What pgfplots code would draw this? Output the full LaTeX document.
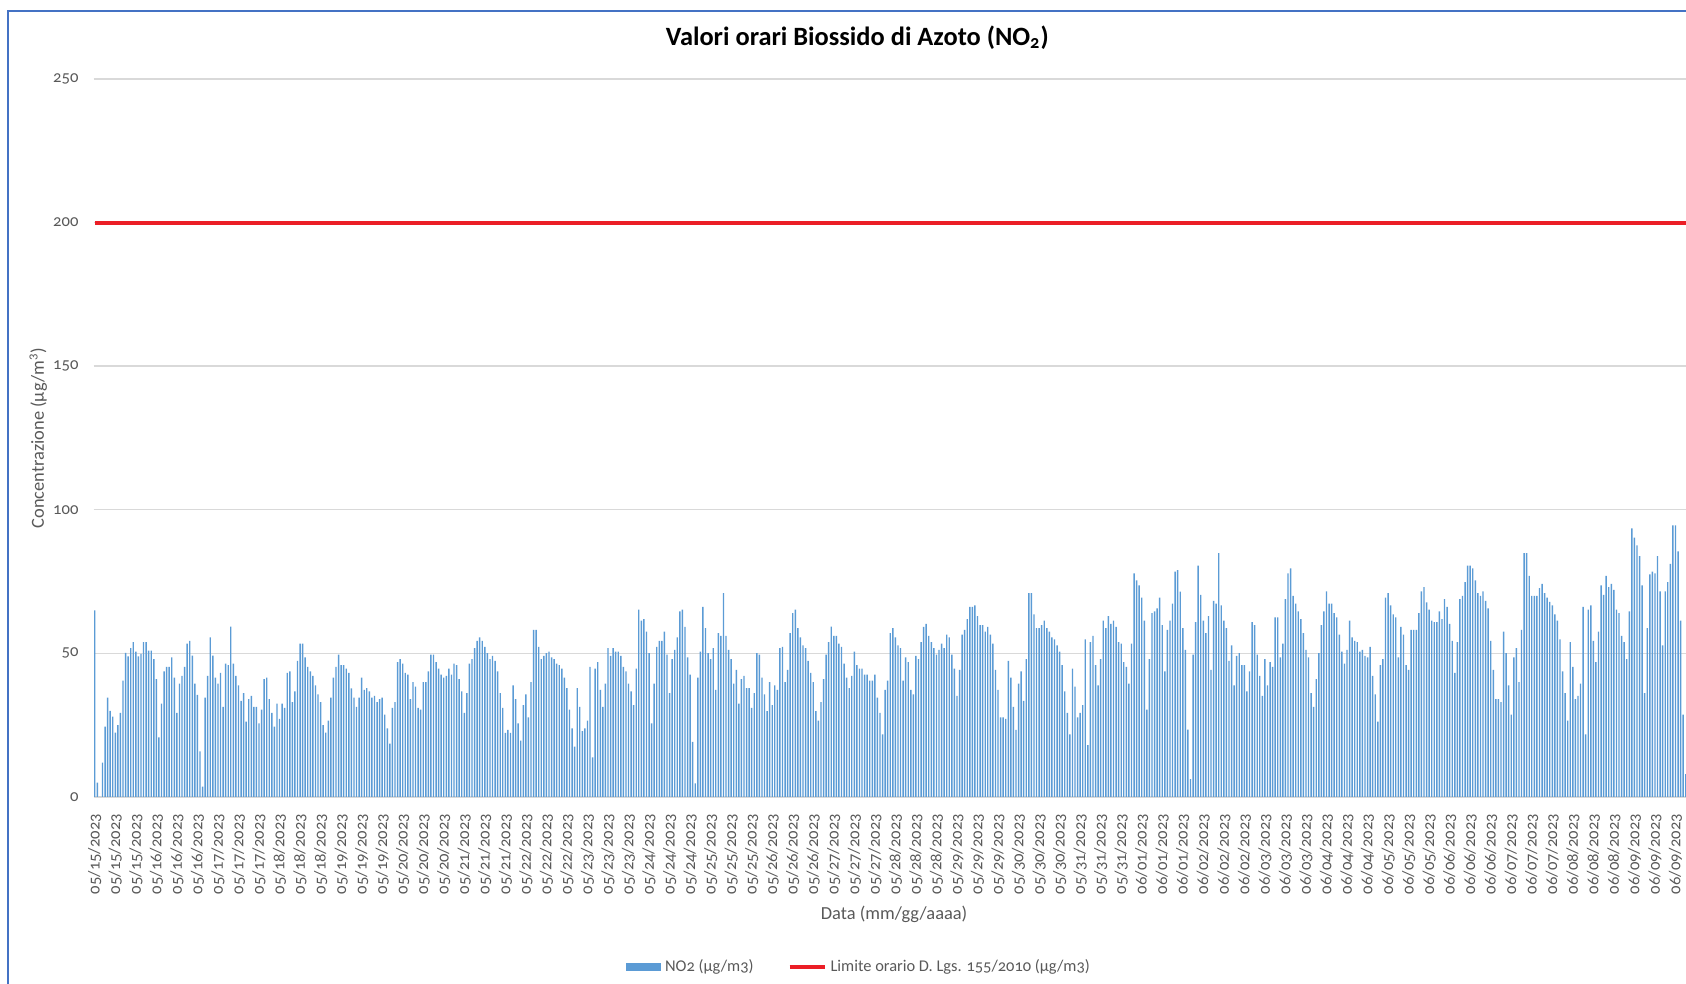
\documentclass[border=0pt]{standalone}
\usepackage{fontspec}
\setmainfont{Carlito}[Numbers=OldStyle]
\usepackage{pgfplots}
\usepackage{pgfplotstable}
\pgfplotsset{compat=1.18}
\definecolor{barblue}{RGB}{91,155,213}
\definecolor{limred}{RGB}{235,30,38}
\definecolor{gridgray}{RGB}{217,217,217}
\definecolor{tickgray}{RGB}{89,89,89}
\definecolor{frameblue}{RGB}{68,114,196}

\pgfplotstableread[row sep=\\]{
v\\
65\\5\\0\\12\\24.5\\34.6\\30\\28\\22.4\\25\\29.3\\40.5\\50.2\\49\\51.8\\53.9\\50.6\\49\\49.8\\53.9\\53.9\\51\\51\\48\\
41\\20.8\\32.5\\43.7\\45.3\\45.3\\48.6\\41.6\\29.3\\39.5\\42.2\\45.3\\53.4\\54.4\\49.2\\39.5\\35.6\\15.9\\3.6\\34.6\\42.2\\55.6\\49.2\\41.6\\
39.5\\43.2\\31.4\\46.4\\45.9\\59.3\\46.4\\42.2\\38.9\\33.5\\36.2\\26.2\\34.1\\35.2\\31.4\\31.4\\25.6\\30.4\\41\\41.6\\34.1\\29.3\\24.5\\32.5\\
27.2\\32.5\\31\\43.2\\43.7\\33\\36.8\\47.4\\53.4\\53.4\\48.6\\45.3\\43.7\\42.2\\38.9\\35.7\\33\\25\\22.4\\26.6\\34.6\\41.6\\45.3\\49.6\\
45.9\\45.9\\44.7\\43.2\\37.8\\
34.6\\31.4\\34.6\\41.6\\37.3\\37.9\\36.8\\34.6\\35.2\\33\\34.1\\34.6\\28.7\\23.9\\18.6\\31\\33\\47\\48\\46.4\\43.2\\42.6\\34.1\\40\\
38.4\\31\\30.4\\40\\40\\43.7\\49.6\\49.6\\47\\44.7\\42.6\\41.6\\42.2\\44.7\\42.6\\46.4\\45.9\\41\\36.8\\29.3\\36.2\\46.4\\48\\51.8\\
54.4\\55.6\\54.4\\52.3\\50.1\\48\\49.1\\47.4\\43.7\\36.2\\31\\22.3\\23.4\\22.3\\38.9\\34.1\\25.6\\19.6\\32\\35.7\\27.7\\40\\58.2\\58.2\\
52.3\\48\\49.1\\50.1\\50.6\\48.6\\48\\46.4\\45.9\\44.7\\41.6\\37.9\\30.4\\23.9\\17.5\\37.9\\31.4\\22.9\\23.9\\26.6\\45.3\\13.8\\44.7\\47\\
37.3\\31.4\\39.5\\51.8\\49.1\\51.8\\50.6\\
50.6\\49.1\\45.3\\43.7\\39.5\\36.8\\32\\44.7\\65.2\\61.4\\61.9\\57.6\\50.1\\25.6\\39.5\\52.3\\54.4\\54.4\\57.6\\49.6\\36.2\\48\\51.2\\55.6\\
64.6\\65.2\\59.2\\48.6\\42.6\\19.2\\4.7\\41.6\\50.6\\66.2\\58.8\\50.1\\48\\51.8\\37.3\\57.1\\56.1\\71\\56.1\\51.2\\48\\39.5\\44.3\\32.5\\
41\\42.2\\37.9\\37.9\\31\\36.2\\50.1\\49.6\\41.6\\35.7\\29.9\\40\\32\\38.9\\37.3\\51.8\\52.3\\40\\44.3\\57.1\\64\\65.2\\58.8\\55.6\\
52.8\\51.8\\47.4\\43.2\\40\\29.9\\26.6\\33\\41\\49.6\\53.9\\59.3\\56.1\\56.1\\53.4\\52.3\\46.4\\41.6\\37.9\\42.2\\50.6\\45.9\\44.7\\44.7\\
42.6\\42.6\\40.5\\40.5\\42.6\\34.6\\29.3\\21.8\\
37.3\\40.5\\57.1\\58.8\\55.6\\52.8\\51.8\\40.5\\48.6\\47\\37.3\\35.7\\49.1\\48\\53.9\\59.2\\60.3\\56.1\\53.9\\51.8\\49.6\\51.2\\53.4\\51.8\\
56.5\\55.6\\49.6\\44.7\\35.2\\44.3\\56.5\\58.2\\61.9\\66.2\\66.2\\66.7\\63\\59.8\\59.8\\57.6\\59.2\\56.5\\53.4\\44.3\\37.3\\27.7\\27.7\\27.2\\
47.4\\41.6\\31.4\\23.4\\39.5\\43.7\\33.5\\48\\71\\71\\63.6\\58.8\\58.8\\59.8\\61.4\\58.8\\57.6\\55.6\\54.9\\52.8\\50.6\\45.9\\36.8\\29.3\\
21.8\\44.7\\38.4\\27.7\\29.3\\32\\54.9\\18.1\\53.9\\56.1\\45.9\\38.9\\48\\61.4\\58.8\\63\\60.3\\61.4\\59.2\\53.9\\53.4\\47\\45.3\\39.5\\
53.4\\77.9\\75.4\\73.7\\69.4\\61.4\\30.4\\48\\
64\\64.6\\65.7\\69.4\\59.8\\43.7\\58.2\\61.4\\67.3\\78.5\\79\\71.5\\58.8\\51.2\\23.5\\6.2\\49.6\\60.9\\80.6\\70.4\\61.4\\57.1\\63\\44.3\\
68.3\\67.3\\84.9\\66.7\\61.4\\58.8\\47.4\\52.8\\38.9\\49.1\\50.1\\45.9\\45.9\\36.8\\43.7\\60.9\\59.8\\49.6\\42.2\\35.2\\48\\38.9\\47\\45.3\\
62.5\\62.5\\48.6\\53.4\\68.9\\77.9\\79.6\\70\\67.3\\64.6\\61.9\\57.1\\51.2\\48.6\\36.2\\31.4\\41\\50.1\\59.8\\64.6\\71.6\\67.3\\67.3\\64\\
62.5\\56.5\\50.6\\46.4\\51.2\\61.4\\55.6\\54.4\\53.9\\50.6\\51.2\\49.1\\48.6\\52.3\\42.2\\35.7\\26.2\\45.9\\48\\69.4\\71\\66.7\\63.6\\62.5\\
48.6\\59.2\\56.5\\45.9\\44.3\\58.2\\58.2\\58.2\\
64\\71.6\\73.1\\67.8\\65.2\\61.4\\60.9\\60.9\\64.6\\61.9\\68.9\\66.2\\60.3\\54.4\\43.2\\53.9\\68.9\\70\\74.8\\80.6\\80.6\\79.6\\75.4\\71\\
70\\71.6\\68.3\\65.7\\54.4\\44.3\\34.1\\34.1\\33\\57.6\\50.1\\38.9\\28.7\\48.6\\51.8\\40\\58.2\\84.9\\84.9\\77\\70\\70\\70\\72.7\\
74.2\\71\\69.4\\67.9\\66.7\\63.6\\61.4\\54.9\\43.7\\36.2\\26.6\\53.9\\45.3\\34.1\\35.2\\39.5\\66.2\\21.8\\65.2\\66.7\\54.4\\47\\57.6\\73.7\\
70.4\\77\\73.1\\74.2\\72.1\\65.2\\64\\56.1\\53.9\\48\\64.6\\93.5\\90.3\\87.6\\83.9\\73.7\\36.2\\58.8\\77.5\\78.5\\77.9\\83.9\\71.6\\52.8\\
71.6\\74.8\\81.2\\94.6\\94.6\\85.5\\61.4\\28.7\\8\\22\\38\\47\\
}\nodata

\pgfplotstableread[row sep=\\]{
x y\\
0 200\\
623 200\\
}\limitdata

\begin{document}
\begin{tikzpicture}
\begin{axis}[
  scale only axis,
  width=800.6pt, height=359pt,
  at={(46.75pt,93.5pt)}, anchor=south west,
  xmin=-0.5, xmax=623.5, ymin=0, ymax=250,
  ytick={0,50,...,250},
  xtick={0,8,...,616},
  xticklabels={
05/15/2023,05/15/2023,05/15/2023,05/16/2023,05/16/2023,05/16/2023,
05/17/2023,05/17/2023,05/17/2023,05/18/2023,05/18/2023,05/18/2023,
05/19/2023,05/19/2023,05/19/2023,05/20/2023,05/20/2023,05/20/2023,
05/21/2023,05/21/2023,05/21/2023,05/22/2023,05/22/2023,05/22/2023,
05/23/2023,05/23/2023,05/23/2023,05/24/2023,05/24/2023,05/24/2023,
05/25/2023,05/25/2023,05/25/2023,05/26/2023,05/26/2023,05/26/2023,
05/27/2023,05/27/2023,05/27/2023,05/28/2023,05/28/2023,05/28/2023,
05/29/2023,05/29/2023,05/29/2023,05/30/2023,05/30/2023,05/30/2023,
05/31/2023,05/31/2023,05/31/2023,06/01/2023,06/01/2023,06/01/2023,
06/02/2023,06/02/2023,06/02/2023,06/03/2023,06/03/2023,06/03/2023,
06/04/2023,06/04/2023,06/04/2023,06/05/2023,06/05/2023,06/05/2023,
06/06/2023,06/06/2023,06/06/2023,06/07/2023,06/07/2023,06/07/2023,
06/08/2023,06/08/2023,06/08/2023,06/09/2023,06/09/2023,06/09/2023},
  ymajorgrids,
  grid style={draw=gridgray, line width=0.7pt},
  axis line style={draw=none},
  major tick length=0pt,
  tick label style={font=\fontsize{8.3}{10}\selectfont, text=tickgray},
  /pgf/number format/assume math mode=true,
  xticklabel style={yshift=-5pt, rotate=90, anchor=east},
  yticklabel style={xshift=-4pt},
  every axis title shift=0pt,
  title={Valori orari Biossido di Azoto (NO\textsubscript{2})},
  title style={at={(axis description cs:0.477,1.0577)}, anchor=center,
    font=\bfseries\fontsize{13.2}{15.8}\selectfont, text=black},
  xlabel={Data (mm/gg/aaaa)},
  xlabel style={at={(axis description cs:0.5,-0.163)}, anchor=center},
  ylabel={Concentrazione (µg/m\textsuperscript{3})},
  ylabel style={at={(axis description cs:-0.0345,0.5)}, anchor=center,
    font=\fontsize{10.6}{12.6}\selectfont},
  label style={font=\fontsize{9.2}{11}\selectfont, text=tickgray},
  legend style={at={(axis description cs:0.4787,-0.2365)}, anchor=center,
    draw=none, fill=none, legend columns=2,
    font=\fontsize{8.2}{9.8}\selectfont, text=tickgray,
    /tikz/every even column/.append style={column sep=15pt}},
  legend cell align=left,
]
\addplot[ybar, bar width=0.55, fill=barblue, draw=none,
  legend image code/.code={\fill[barblue] (0pt,-1.9pt) rectangle (17.5pt,1.9pt);}]
  table[x expr=\coordindex, y=v] {\nodata};
\addlegendentry{NO2 (µg/m3)}
\addplot[color=limred, line width=2pt, mark=none,
  legend image code/.code={\draw[limred, line width=2pt] (0pt,0pt) -- (17.5pt,0pt);}]
  table[x=x, y=y] {\limitdata};
\addlegendentry{Limite orario D. Lgs. 155/2010 (µg/m3)}
\end{axis}
\draw[frameblue, line width=1pt] (4pt,-20pt) -- (4pt,486.5pt) -- (870pt,486.5pt);
\pgfresetboundingbox
\useasboundingbox (0,0) rectangle (843pt,492pt);
\end{tikzpicture}
\end{document}
